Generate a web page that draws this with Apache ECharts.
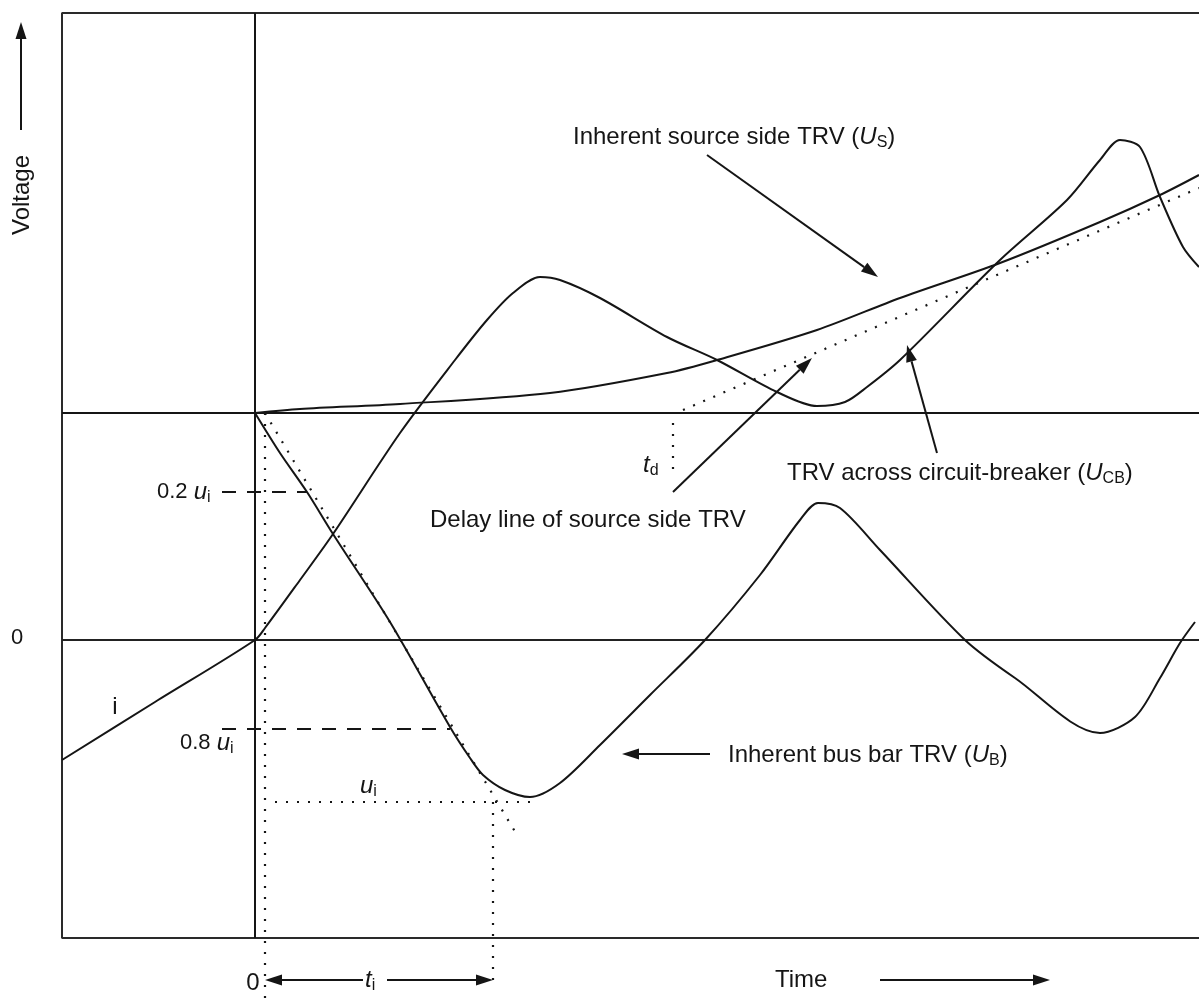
<!DOCTYPE html>
<html>
<head>
<meta charset="utf-8">
<script src="https://cdn.jsdelivr.net/npm/echarts@6.0.0/dist/echarts.min.js"></script>
<style>
html, body { margin: 0; padding: 0; background: #fff; }
#main { width: 1199px; height: 1001px; }
</style>
</head>
<body>
<div id="main"></div>
<script>
// time t: 0 at current zero, voltage v: 0 at the zero line (units)
var tMin = -193, tMax = 944, vMin = -298, vMax = 627;
var vPre = 227;   // level where U_S and U_B start at t = 0

// current i, carrying on as TRV across the breaker (U_CB)
var iT = [-193, -100, 0, 10, 45, 78, 145, 200, 232, 258, 285, 305, 345, 412, 462, 522, 562, 590, 612, 645, 745, 812, 845, 865, 885, 905, 928, 944];
var iV = [-120, -62, 0, 12, 60, 106, 207, 280, 320, 347, 363, 360, 342, 303, 280, 248, 234, 238, 253, 280, 380, 440, 480, 500, 493, 443, 393, 373];

// inherent source side TRV (U_S)
var usT = [0, 45, 145, 295, 412, 462, 562, 645, 745, 845, 905, 944];
var usV = [227, 231, 236, 247, 267, 280, 310, 342, 377, 418, 445, 465];

// delay line of source side TRV
var dlT = [428, 944];
var dlV = [230, 452];

// inherent bus bar TRV (U_B)
var ubT = [0, 25, 52, 78, 135, 195, 215, 228, 250, 275, 305, 345, 395, 450, 505, 545, 563, 585, 625, 710, 760, 845, 880, 905, 925, 940];
var ubV = [227, 187, 148, 106, 18, -87, -118, -135, -150, -157, -143, -105, -55, 0, 65, 120, 137, 132, 90, 0, -38, -93, -77, -38, -3, 18];

// tangent to U_B and the construction lines
var tanT = [10, 262], tanV = [227, -195];
var uiLevel = -162;            // u_i
var lvl02 = 148, lvl08 = -89;  // 0.2 u_i, 0.8 u_i
var tiEnd = 238;               // t_i
var tdT = 418;                 // t_d

var FONT = '"Liberation Sans", Arial, sans-serif';
var INK = '#151515';

var rich = {
    n: { fontSize: 24, lineHeight: 28, fontFamily: FONT, fill: INK },
    m: { fontSize: 22, lineHeight: 28, fontFamily: FONT, fill: INK },
    it: { fontSize: 24, lineHeight: 28, fontStyle: 'italic', fontFamily: FONT, fill: INK },
    sub: { fontSize: 16, lineHeight: 16, verticalAlign: 'bottom', fontFamily: FONT, fill: INK }
};

// annotations: text, position, alignment
var notes = [
    { text: '{n|Voltage}', t: -233, v: 445, align: 'center', rot: Math.PI / 2 },
    { text: '{m|0}', t: -238, v: 2, align: 'center' },
    { text: '{n|i}', t: -140, v: -67, align: 'center' },
    { text: '{m|0.2 }{it|u}{sub|i}', t: -98, v: 148, align: 'left' },
    { text: '{m|0.8 }{it|u}{sub|i}', t: -75, v: -103, align: 'left' },
    { text: '{it|u}{sub|i}', t: 105, v: -146, align: 'left' },
    { text: '{n|0}', t: -2, v: -343, align: 'center' },
    { text: '{it|t}{sub|i}', t: 110, v: -340, align: 'left' },
    { text: '{n|Time}', t: 520, v: -340, align: 'left' },
    { text: '{n|Inherent source side TRV (}{it|U}{sub|S}{n|)}', t: 318, v: 503, align: 'left' },
    { text: '{n|TRV across circuit-breaker (}{it|U}{sub|CB}{n|)}', t: 532, v: 167, align: 'left' },
    { text: '{n|Delay line of source side TRV}', t: 175, v: 120, align: 'left' },
    { text: '{it|t}{sub|d}', t: 388, v: 175, align: 'left' },
    { text: '{n|Inherent bus bar TRV (}{it|U}{sub|B}{n|)}', t: 473, v: -115, align: 'left' }
];

// arrows: [t from, v from, t to, v to]
var arrows = [
    [-234, 510, -234, 618],
    [108, -340, 10, -340],
    [132, -340, 238, -340],
    [625, -340, 795, -340],
    [452, 485, 623, 363],
    [682, 187, 652, 295],
    [418, 148, 557, 282],
    [455, -114, 367, -114]
];

function zip(a, b) {
    return a.map(function (x, k) { return [x, b[k]]; });
}

function line(data, style, clip) {
    return {
        type: 'line',
        data: data,
        showSymbol: false,
        symbol: 'none',
        clip: clip !== false,
        silent: true,
        lineStyle: Object.assign({ color: INK, width: 2 }, style)
    };
}

function curve(t, v) {
    var s = line(zip(t, v), {});
    s.smooth = 0.3;
    return s;
}

var dots = { type: [2, 9], width: 2.2 };
var dash = { type: [14, 11], width: 2 };
var frame = { color: '#2a2a2a', width: 2 };

var chart = echarts.init(document.getElementById('main'));
var option = {
    animation: false,
    backgroundColor: '#fff',
    grid: { left: 62, top: 13, right: 0, bottom: 63 },
    xAxis: { type: 'value', min: tMin, max: tMax, show: false },
    yAxis: { type: 'value', min: vMin, max: vMax, show: false },
    series: [
        // plot frame (open on the right)
        line([[tMax, vMax], [tMin, vMax], [tMin, vMin], [tMax, vMin]], frame, false),
        // zero line, pre-level line, t = 0 line
        line([[tMin, 0], [tMax, 0]], { width: 1.8, color: '#222' }),
        line([[tMin, vPre], [tMax, vPre]], { width: 2 }),
        line([[0, vMin], [0, vMax]], { width: 2 }),
        curve(iT, iV),
        curve(usT, usV),
        curve(ubT, ubV),
        line(zip(dlT, dlV), dots),
        line(zip(tanT, tanV), dots),
        line([[10, vPre], [10, -361]], dots, false),
        line([[tiEnd, uiLevel], [tiEnd, -348]], dots, false),
        line([[20, uiLevel], [275, uiLevel]], dots),
        line([[tdT, 217], [tdT, 170]], dots),
        line([[-33, lvl02], [52, lvl02]], dash),
        line([[-33, lvl08], [195, lvl08]], dash),
        {
            type: 'custom',
            silent: true,
            clip: false,
            data: arrows,
            renderItem: function (params, api) {
                var a = api.coord([api.value(0), api.value(1)]);
                var b = api.coord([api.value(2), api.value(3)]);
                var ang = Math.atan2(b[1] - a[1], b[0] - a[0]);
                var L = 17, W = 5.5;
                var bx = b[0] - L * Math.cos(ang), by = b[1] - L * Math.sin(ang);
                var nx = -Math.sin(ang) * W, ny = Math.cos(ang) * W;
                return {
                    type: 'group',
                    children: [
                        { type: 'line', shape: { x1: a[0], y1: a[1], x2: bx, y2: by }, style: { stroke: INK, lineWidth: 2 } },
                        { type: 'polygon', shape: { points: [[b[0], b[1]], [bx + nx, by + ny], [bx - nx, by - ny]] }, style: { fill: INK } }
                    ]
                };
            }
        },
        {
            type: 'custom',
            silent: true,
            clip: false,
            data: notes.map(function (n) { return [n.t, n.v]; }),
            renderItem: function (params, api) {
                var n = notes[params.dataIndex];
                var p = api.coord([api.value(0), api.value(1)]);
                return {
                    type: 'text',
                    x: p[0],
                    y: p[1],
                    rotation: n.rot || 0,
                    style: {
                        text: n.text,
                        rich: rich,
                        align: n.align,
                        verticalAlign: 'middle',
                        fill: INK
                    }
                };
            }
        }
    ]
};
chart.setOption(option);
</script>
</body>
</html>
